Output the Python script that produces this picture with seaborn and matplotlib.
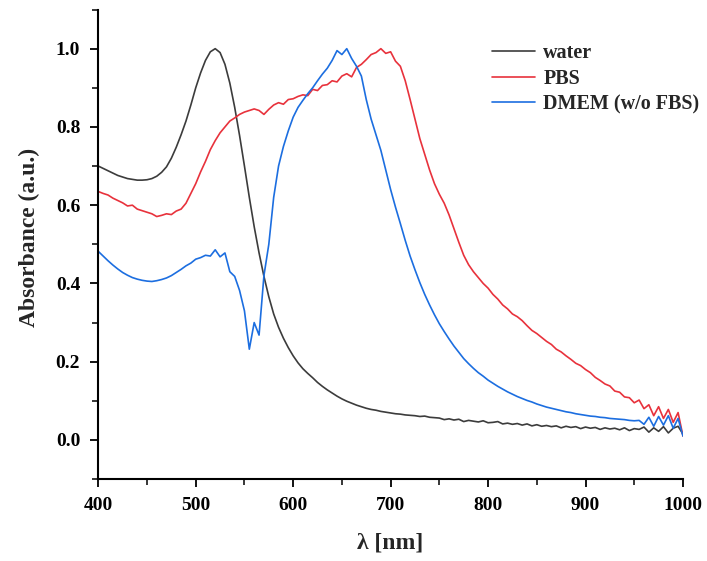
import matplotlib
matplotlib.use("Agg")
import matplotlib.pyplot as plt
import numpy as np
import pandas as pd
import seaborn as sns
from matplotlib.ticker import MultipleLocator, FormatStrFormatter

# wavelength grid (nm), 5 nm steps
wavelength = list(range(400, 1001, 5))

water = [
    0.700, 0.694, 0.688, 0.682, 0.676, 0.672, 0.668, 0.666, 0.664, 0.664,
    0.665, 0.668, 0.674, 0.684, 0.698, 0.720, 0.748, 0.780, 0.815, 0.856,
    0.900, 0.938, 0.970, 0.992, 1.000, 0.990, 0.960, 0.912, 0.850, 0.778,
    0.700, 0.620, 0.545, 0.478, 0.418, 0.366, 0.322, 0.288, 0.260, 0.236,
    0.215, 0.197, 0.182, 0.170, 0.159, 0.147, 0.137, 0.128, 0.120, 0.112,
    0.105, 0.099, 0.094, 0.089, 0.085, 0.081, 0.078, 0.076, 0.073, 0.071,
    0.069, 0.067, 0.066, 0.064, 0.063, 0.062, 0.060, 0.061, 0.058, 0.057,
    0.056, 0.052, 0.054, 0.051, 0.053, 0.047, 0.050, 0.048, 0.046, 0.049,
    0.044, 0.045, 0.047, 0.041, 0.043, 0.040, 0.042, 0.038, 0.041, 0.036,
    0.039, 0.035, 0.037, 0.034, 0.036, 0.031, 0.035, 0.032, 0.034, 0.029,
    0.033, 0.030, 0.032, 0.027, 0.031, 0.028, 0.030, 0.026, 0.031, 0.024,
    0.029, 0.027, 0.033, 0.020, 0.031, 0.022, 0.034, 0.018, 0.030, 0.035,
    0.015,
]

pbs = [
    0.635, 0.630, 0.626, 0.618, 0.612, 0.606, 0.598, 0.600, 0.590, 0.586,
    0.582, 0.578, 0.571, 0.574, 0.578, 0.576, 0.585, 0.590, 0.605, 0.630,
    0.655, 0.685, 0.712, 0.742, 0.765, 0.785, 0.800, 0.815, 0.823, 0.832,
    0.838, 0.842, 0.846, 0.842, 0.832, 0.845, 0.856, 0.862, 0.858, 0.870,
    0.872, 0.878, 0.882, 0.880, 0.896, 0.893, 0.906, 0.908, 0.918, 0.915,
    0.930, 0.936, 0.928, 0.952, 0.960, 0.972, 0.985, 0.990, 1.000, 0.988,
    0.992, 0.968, 0.955, 0.918, 0.870, 0.820, 0.770, 0.730, 0.690, 0.655,
    0.628, 0.605, 0.575, 0.540, 0.505, 0.472, 0.448, 0.430, 0.415, 0.400,
    0.388, 0.372, 0.360, 0.345, 0.335, 0.322, 0.315, 0.305, 0.292, 0.280,
    0.272, 0.262, 0.252, 0.244, 0.232, 0.225, 0.215, 0.206, 0.196, 0.190,
    0.180, 0.172, 0.160, 0.152, 0.143, 0.138, 0.125, 0.122, 0.110, 0.108,
    0.095, 0.102, 0.080, 0.090, 0.062, 0.085, 0.055, 0.078, 0.045, 0.070,
    0.010,
]

dmem = [
    0.482, 0.470, 0.458, 0.447, 0.437, 0.428, 0.421, 0.415, 0.411, 0.408,
    0.406, 0.405, 0.407, 0.410, 0.414, 0.420, 0.428, 0.436, 0.445, 0.452,
    0.462, 0.466, 0.472, 0.470, 0.486, 0.468, 0.478, 0.430, 0.418, 0.382,
    0.330, 0.232, 0.300, 0.268, 0.420, 0.500, 0.620, 0.700, 0.750, 0.790,
    0.825, 0.850, 0.868, 0.885, 0.900, 0.918, 0.935, 0.950, 0.970, 0.995,
    0.985, 1.000, 0.975, 0.955, 0.930, 0.870, 0.820, 0.780, 0.740, 0.690,
    0.640, 0.595, 0.553, 0.510, 0.470, 0.435, 0.402, 0.372, 0.345, 0.320,
    0.297, 0.277, 0.258, 0.240, 0.224, 0.208, 0.195, 0.183, 0.172, 0.163,
    0.153, 0.145, 0.137, 0.130, 0.123, 0.117, 0.111, 0.106, 0.101, 0.097,
    0.092, 0.088, 0.084, 0.081, 0.078, 0.075, 0.072, 0.070, 0.067, 0.065,
    0.063, 0.061, 0.060, 0.058, 0.057, 0.055, 0.054, 0.053, 0.052, 0.050,
    0.049, 0.050, 0.040, 0.058, 0.035, 0.060, 0.038, 0.062, 0.030, 0.055,
    0.010,
]

labels = ["water", "PBS", "DMEM (w/o FBS)"]
colors = {"water": "#3c3c3c", "PBS": "#e8323c", "DMEM (w/o FBS)": "#1c6ee0"}

data = pd.concat([
    pd.DataFrame({"wavelength": wavelength, "absorbance": values, "medium": name})
    for name, values in zip(labels, [water, pbs, dmem])
])

sns.set_style("ticks")
plt.rcParams["font.family"] = ["Liberation Serif", "DejaVu Serif"]
plt.rcParams["font.weight"] = "bold"

fig = plt.figure(figsize=(7.07, 5.61), dpi=100)
ax = fig.add_axes([0.139, 0.146, 0.827, 0.837])

sns.lineplot(data=data, x="wavelength", y="absorbance", hue="medium",
             hue_order=labels, palette=colors, linewidth=1.2, ax=ax)

ax.set_xlim(400, 1000)
ax.set_ylim(-0.1, 1.1)
ax.xaxis.set_major_locator(MultipleLocator(100))
ax.xaxis.set_minor_locator(MultipleLocator(50))
ax.yaxis.set_major_locator(MultipleLocator(0.2))
ax.yaxis.set_minor_locator(MultipleLocator(0.1))
ax.yaxis.set_major_formatter(FormatStrFormatter("%.1f"))
ax.tick_params(which="major", direction="out", length=6, width=1.3,
               labelsize=14, pad=7, colors="black")
ax.tick_params(which="minor", direction="out", length=4, width=1.3)
for lab in ax.get_xticklabels() + ax.get_yticklabels():
    lab.set_fontweight("bold")

for side in ["top", "right"]:
    ax.spines[side].set_visible(False)
for side in ["left", "bottom"]:
    ax.spines[side].set_linewidth(1.5)
    ax.spines[side].set_color("black")

ax.set_xlabel("λ [nm]", fontsize=17, fontweight="bold")
ax.set_ylabel("Absorbance (a.u.)", fontsize=17, fontweight="bold")
ax.xaxis.set_label_coords(0.5, -0.113)
ax.yaxis.set_label_coords(-0.100, 0.515)

leg = ax.legend(loc="upper left", bbox_to_anchor=(0.6735, 0.928), frameon=False,
                fontsize=14.5, handlelength=2.15, handletextpad=0.4,
                labelspacing=0.27, borderpad=0, borderaxespad=0)
for t in leg.get_texts():
    t.set_fontweight("bold")

fig.savefig("out.png", dpi=100)
